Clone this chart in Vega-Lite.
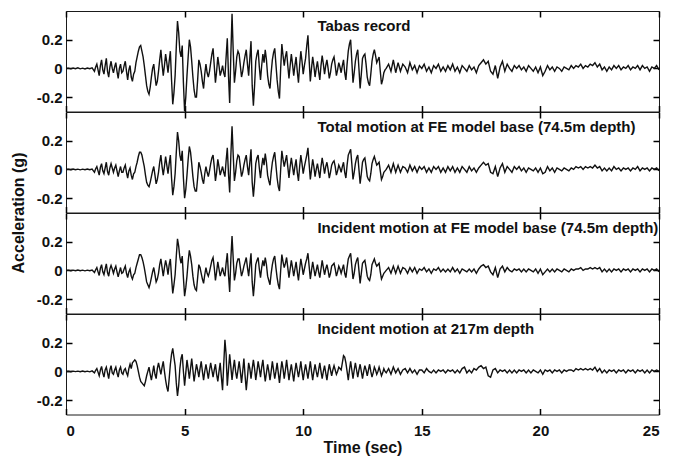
{
"$schema": "https://vega.github.io/schema/vega-lite/v6.json",
"padding": {"left": 10, "top": 9, "right": 19, "bottom": 5},
"background": "white",
"spacing": 0,
"bounds": "flush",
"config": {
 "font": "Liberation Sans",
 "view": {"stroke": "#1a1a1a", "strokeWidth": 1},
 "axis": {"grid": false, "domain": false, "labelFont": "Liberation Sans", "labelFontSize": 15, "labelFontWeight": "bold", "labelColor": "#111111", "titleFont": "Liberation Sans", "titleFontSize": 16, "titleFontWeight": "bold", "titleColor": "#111111"}
},
"data": {"values": [
{"t":0.0,"a":0,"b":0,"c":0,"d":0},
{"t":0.1,"a":0.002,"b":0.002,"c":0.002,"d":0.001},
{"t":0.2,"a":-0.003,"b":-0.002,"c":-0.002,"d":-0.002},
{"t":0.3,"a":0.003,"b":0.003,"c":0.002,"d":0.002},
{"t":0.4,"a":-0.002,"b":-0.002,"c":-0.002,"d":-0.001},
{"t":0.5,"a":0.004,"b":0.002,"c":0.003,"d":0.002},
{"t":0.6,"a":-0.003,"b":-0.003,"c":-0.002,"d":-0.002},
{"t":0.7,"a":0.002,"b":0.002,"c":0.002,"d":0.003},
{"t":0.8,"a":-0.004,"b":-0.002,"c":-0.003,"d":-0.002},
{"t":0.9,"a":0.003,"b":0.003,"c":0.002,"d":0.002},
{"t":1.0,"a":-0.002,"b":-0.002,"c":-0.002,"d":-0.003},
{"t":1.1,"a":0.004,"b":0.003,"c":0.003,"d":0.004},
{"t":1.2,"a":-0.02,"b":-0.02,"c":-0.015,"d":-0.01},
{"t":1.3,"a":0.03,"b":0.02,"c":0.02,"d":0.02},
{"t":1.4,"a":-0.05,"b":-0.04,"c":-0.035,"d":-0.03},
{"t":1.5,"a":0.06,"b":0.04,"c":0.04,"d":0.035},
{"t":1.6,"a":-0.04,"b":-0.03,"c":-0.03,"d":-0.04},
{"t":1.7,"a":0.07,"b":0.05,"c":0.045,"d":0.03},
{"t":1.8,"a":-0.06,"b":-0.04,"c":-0.04,"d":-0.05},
{"t":1.9,"a":0.05,"b":0.04,"c":0.035,"d":0.04},
{"t":2.0,"a":-0.03,"b":-0.02,"c":-0.02,"d":-0.02},
{"t":2.1,"a":0.04,"b":0.03,"c":0.03,"d":0.03},
{"t":2.2,"a":-0.07,"b":-0.05,"c":-0.045,"d":-0.04},
{"t":2.3,"a":0.03,"b":0.02,"c":0.02,"d":0.03},
{"t":2.4,"a":-0.02,"b":-0.02,"c":-0.015,"d":-0.02},
{"t":2.5,"a":0.05,"b":0.03,"c":0.03,"d":0.02},
{"t":2.6,"a":-0.08,"b":-0.06,"c":-0.05,"d":-0.03},
{"t":2.7,"a":0.02,"b":0.01,"c":0.01,"d":0.05},
{"t":2.8,"a":-0.09,"b":-0.07,"c":-0.06,"d":0.06},
{"t":2.9,"a":-0.02,"b":-0.02,"c":-0.02,"d":0.08},
{"t":3.0,"a":0.08,"b":0.05,"c":0.05,"d":0.04},
{"t":3.1,"a":0.15,"b":0.12,"c":0.11,"d":-0.04},
{"t":3.2,"a":0.12,"b":0.1,"c":0.09,"d":-0.08},
{"t":3.3,"a":0.02,"b":0.02,"c":0.02,"d":-0.1},
{"t":3.4,"a":-0.12,"b":-0.09,"c":-0.08,"d":-0.03},
{"t":3.5,"a":-0.18,"b":-0.12,"c":-0.12,"d":0.03},
{"t":3.6,"a":-0.06,"b":-0.05,"c":-0.05,"d":-0.06},
{"t":3.7,"a":0.03,"b":0.02,"c":0.02,"d":0.04},
{"t":3.8,"a":-0.12,"b":-0.1,"c":-0.08,"d":-0.05},
{"t":3.9,"a":-0.02,"b":-0.02,"c":-0.02,"d":0.06},
{"t":4.0,"a":0.13,"b":0.1,"c":0.08,"d":-0.02},
{"t":4.1,"a":-0.05,"b":-0.04,"c":-0.04,"d":0.07},
{"t":4.2,"a":0.1,"b":0.09,"c":0.07,"d":-0.06},
{"t":4.3,"a":-0.03,"b":-0.03,"c":-0.03,"d":-0.14},
{"t":4.4,"a":0.12,"b":0.1,"c":0.08,"d":0.05},
{"t":4.5,"a":-0.25,"b":-0.18,"c":-0.16,"d":0.16},
{"t":4.6,"a":-0.05,"b":-0.03,"c":-0.03,"d":0.04},
{"t":4.7,"a":0.33,"b":0.26,"c":0.22,"d":-0.17},
{"t":4.8,"a":0.12,"b":0.1,"c":0.09,"d":0.02},
{"t":4.9,"a":0.16,"b":0.13,"c":0.1,"d":0.12},
{"t":5.0,"a":-0.3,"b":-0.2,"c":-0.18,"d":-0.1},
{"t":5.1,"a":-0.05,"b":-0.04,"c":-0.04,"d":0.08},
{"t":5.2,"a":0.2,"b":0.16,"c":0.14,"d":-0.05},
{"t":5.3,"a":0.05,"b":0.04,"c":0.04,"d":0.09},
{"t":5.4,"a":-0.15,"b":-0.12,"c":-0.1,"d":-0.07},
{"t":5.5,"a":-0.2,"b":-0.15,"c":-0.14,"d":0.05},
{"t":5.6,"a":0.06,"b":0.05,"c":0.04,"d":-0.04},
{"t":5.7,"a":-0.02,"b":-0.02,"c":-0.02,"d":0.07},
{"t":5.8,"a":-0.14,"b":-0.1,"c":-0.09,"d":-0.06},
{"t":5.9,"a":0.03,"b":0.02,"c":0.02,"d":0.05},
{"t":6.0,"a":-0.06,"b":-0.05,"c":-0.04,"d":-0.05},
{"t":6.1,"a":0.04,"b":0.04,"c":0.03,"d":0.06},
{"t":6.2,"a":0.14,"b":0.1,"c":0.09,"d":-0.04},
{"t":6.3,"a":-0.1,"b":-0.08,"c":-0.07,"d":0.05},
{"t":6.4,"a":0.08,"b":0.07,"c":0.06,"d":-0.07},
{"t":6.5,"a":-0.05,"b":-0.04,"c":-0.04,"d":0.06},
{"t":6.6,"a":0.02,"b":0.02,"c":0.02,"d":-0.13},
{"t":6.7,"a":-0.06,"b":-0.05,"c":-0.04,"d":0.22},
{"t":6.8,"a":0.21,"b":0.15,"c":0.12,"d":-0.1},
{"t":6.9,"a":-0.24,"b":-0.16,"c":-0.15,"d":0.12},
{"t":7.0,"a":0.38,"b":0.3,"c":0.24,"d":-0.06},
{"t":7.1,"a":-0.1,"b":-0.08,"c":-0.07,"d":0.08},
{"t":7.2,"a":0.08,"b":0.06,"c":0.05,"d":-0.05},
{"t":7.3,"a":0.1,"b":0.09,"c":0.08,"d":0.07},
{"t":7.4,"a":-0.06,"b":-0.05,"c":-0.04,"d":-0.08},
{"t":7.5,"a":0.04,"b":0.03,"c":0.03,"d":0.09},
{"t":7.6,"a":0.13,"b":0.1,"c":0.09,"d":-0.13},
{"t":7.7,"a":-0.05,"b":-0.04,"c":-0.04,"d":0.06},
{"t":7.8,"a":0.19,"b":0.14,"c":0.12,"d":-0.05},
{"t":7.9,"a":-0.26,"b":-0.19,"c":-0.18,"d":0.08},
{"t":8.0,"a":0.05,"b":0.04,"c":0.04,"d":-0.06},
{"t":8.1,"a":0.13,"b":0.1,"c":0.09,"d":0.07},
{"t":8.2,"a":-0.08,"b":-0.06,"c":-0.05,"d":-0.04},
{"t":8.3,"a":0.1,"b":0.08,"c":0.07,"d":0.08},
{"t":8.4,"a":0.13,"b":0.11,"c":0.09,"d":-0.07},
{"t":8.5,"a":-0.05,"b":-0.04,"c":-0.04,"d":0.05},
{"t":8.6,"a":-0.14,"b":-0.11,"c":-0.1,"d":-0.06},
{"t":8.7,"a":0.06,"b":0.05,"c":0.04,"d":0.07},
{"t":8.8,"a":0.14,"b":0.12,"c":0.1,"d":-0.05},
{"t":8.9,"a":-0.08,"b":-0.06,"c":-0.05,"d":0.06},
{"t":9.0,"a":-0.21,"b":-0.15,"c":-0.13,"d":-0.08},
{"t":9.1,"a":0.17,"b":0.13,"c":0.11,"d":0.07},
{"t":9.2,"a":0.02,"b":0.02,"c":0.02,"d":-0.05},
{"t":9.3,"a":0.12,"b":0.1,"c":0.09,"d":0.08},
{"t":9.4,"a":-0.07,"b":-0.06,"c":-0.05,"d":-0.06},
{"t":9.5,"a":0.1,"b":0.08,"c":0.07,"d":0.05},
{"t":9.6,"a":-0.05,"b":-0.04,"c":-0.04,"d":-0.07},
{"t":9.7,"a":0.08,"b":0.07,"c":0.06,"d":0.06},
{"t":9.8,"a":-0.1,"b":-0.08,"c":-0.07,"d":-0.04},
{"t":9.9,"a":0.12,"b":0.1,"c":0.08,"d":0.07},
{"t":10.0,"a":-0.04,"b":-0.03,"c":-0.03,"d":-0.06},
{"t":10.1,"a":0.07,"b":0.06,"c":0.05,"d":0.05},
{"t":10.2,"a":0.23,"b":0.15,"c":0.12,"d":-0.05},
{"t":10.3,"a":-0.09,"b":-0.07,"c":-0.06,"d":0.07},
{"t":10.4,"a":0.08,"b":0.07,"c":0.06,"d":-0.06},
{"t":10.5,"a":-0.06,"b":-0.05,"c":-0.04,"d":0.05},
{"t":10.6,"a":0.05,"b":0.04,"c":0.04,"d":-0.04},
{"t":10.7,"a":-0.08,"b":-0.06,"c":-0.05,"d":0.06},
{"t":10.8,"a":0.09,"b":0.08,"c":0.07,"d":-0.05},
{"t":10.9,"a":-0.04,"b":-0.03,"c":-0.03,"d":0.04},
{"t":11.0,"a":0.06,"b":0.05,"c":0.04,"d":-0.06},
{"t":11.1,"a":-0.07,"b":-0.06,"c":-0.05,"d":0.05},
{"t":11.2,"a":0.03,"b":0.03,"c":0.03,"d":-0.03},
{"t":11.3,"a":0.08,"b":0.06,"c":0.05,"d":0.04},
{"t":11.4,"a":-0.05,"b":-0.04,"c":-0.04,"d":-0.02},
{"t":11.5,"a":0.04,"b":0.03,"c":0.03,"d":0.03},
{"t":11.6,"a":-0.03,"b":-0.02,"c":-0.02,"d":0.01},
{"t":11.7,"a":0.06,"b":0.05,"c":0.04,"d":0.11},
{"t":11.8,"a":-0.08,"b":-0.06,"c":-0.05,"d":0.06},
{"t":11.9,"a":0.12,"b":0.1,"c":0.08,"d":-0.06},
{"t":12.0,"a":0.2,"b":0.14,"c":0.12,"d":0.07},
{"t":12.1,"a":-0.1,"b":-0.07,"c":-0.06,"d":-0.05},
{"t":12.2,"a":0.05,"b":0.04,"c":0.04,"d":0.06},
{"t":12.3,"a":0.13,"b":0.1,"c":0.09,"d":-0.04},
{"t":12.4,"a":-0.14,"b":-0.1,"c":-0.09,"d":0.05},
{"t":12.5,"a":0.07,"b":0.05,"c":0.05,"d":-0.05},
{"t":12.6,"a":0.1,"b":0.08,"c":0.07,"d":0.04},
{"t":12.7,"a":-0.06,"b":-0.05,"c":-0.04,"d":-0.03},
{"t":12.8,"a":-0.12,"b":-0.08,"c":-0.07,"d":0.05},
{"t":12.9,"a":0.05,"b":0.04,"c":0.04,"d":-0.04},
{"t":13.0,"a":0.13,"b":0.09,"c":0.08,"d":0.03},
{"t":13.1,"a":0.04,"b":0.03,"c":0.03,"d":-0.02},
{"t":13.2,"a":0.08,"b":0.05,"c":0.05,"d":0.03},
{"t":13.3,"a":-0.11,"b":-0.07,"c":-0.06,"d":-0.03},
{"t":13.4,"a":-0.03,"b":-0.02,"c":-0.02,"d":0.02},
{"t":13.5,"a":0,"b":0,"c":0,"d":-0.01},
{"t":13.6,"a":0.03,"b":0.03,"c":0.02,"d":0.02},
{"t":13.7,"a":-0.02,"b":-0.02,"c":-0.02,"d":-0.02},
{"t":13.8,"a":0.06,"b":0.04,"c":0.03,"d":0.03},
{"t":13.9,"a":-0.03,"b":-0.02,"c":-0.02,"d":-0.01},
{"t":14.0,"a":0.04,"b":0.03,"c":0.03,"d":0.02},
{"t":14.1,"a":-0.02,"b":-0.02,"c":-0.02,"d":-0.02},
{"t":14.2,"a":0.03,"b":0.02,"c":0.02,"d":0.01},
{"t":14.3,"a":0.01,"b":0.01,"c":0.01,"d":0.02},
{"t":14.4,"a":-0.03,"b":-0.02,"c":-0.02,"d":-0.01},
{"t":14.5,"a":0.04,"b":0.03,"c":0.02,"d":0.02},
{"t":14.6,"a":-0.01,"b":-0.01,"c":-0.01,"d":-0.01},
{"t":14.7,"a":0.02,"b":0.02,"c":0.02,"d":0.01},
{"t":14.8,"a":-0.03,"b":-0.02,"c":-0.02,"d":-0.02},
{"t":14.9,"a":0.02,"b":0.02,"c":0.01,"d":0.01},
{"t":15.0,"a":0,"b":0,"c":0,"d":0.01},
{"t":15.1,"a":0.03,"b":0.02,"c":0.02,"d":-0.01},
{"t":15.2,"a":-0.02,"b":-0.02,"c":-0.01,"d":0.02},
{"t":15.3,"a":0.01,"b":0.01,"c":0.01,"d":0},
{"t":15.4,"a":-0.03,"b":-0.02,"c":-0.02,"d":-0.01},
{"t":15.5,"a":0.02,"b":0.02,"c":0.01,"d":0.01},
{"t":15.6,"a":0,"b":0,"c":0,"d":-0.01},
{"t":15.7,"a":0.03,"b":0.02,"c":0.02,"d":0.01},
{"t":15.8,"a":-0.02,"b":-0.02,"c":-0.01,"d":0},
{"t":15.9,"a":0.01,"b":0.01,"c":0.01,"d":0.01},
{"t":16.0,"a":-0.02,"b":-0.02,"c":-0.01,"d":-0.01},
{"t":16.1,"a":0.02,"b":0.02,"c":0.01,"d":0.01},
{"t":16.2,"a":-0.01,"b":-0.01,"c":-0.01,"d":0},
{"t":16.3,"a":0.03,"b":0.02,"c":0.02,"d":0.01},
{"t":16.4,"a":-0.02,"b":-0.02,"c":-0.01,"d":-0.01},
{"t":16.5,"a":0.01,"b":0.01,"c":0.01,"d":0.01},
{"t":16.6,"a":-0.03,"b":-0.02,"c":-0.02,"d":-0.01},
{"t":16.7,"a":0.02,"b":0.02,"c":0.01,"d":0.02},
{"t":16.8,"a":0,"b":0,"c":0,"d":0.03},
{"t":16.9,"a":-0.02,"b":-0.02,"c":-0.01,"d":-0.01},
{"t":17.0,"a":0.02,"b":0.02,"c":0.01,"d":0.01},
{"t":17.1,"a":-0.01,"b":-0.01,"c":-0.01,"d":-0.01},
{"t":17.2,"a":0.01,"b":0.01,"c":0.01,"d":0.02},
{"t":17.3,"a":-0.03,"b":-0.02,"c":-0.02,"d":0.01},
{"t":17.4,"a":0.02,"b":0.01,"c":0.01,"d":0.03},
{"t":17.5,"a":0.04,"b":0.03,"c":0.03,"d":0.04},
{"t":17.6,"a":0.06,"b":0.05,"c":0.04,"d":0.02},
{"t":17.7,"a":0.03,"b":0.03,"c":0.02,"d":0.03},
{"t":17.8,"a":0.05,"b":0.04,"c":0.03,"d":-0.03},
{"t":17.9,"a":-0.02,"b":-0.02,"c":-0.01,"d":-0.04},
{"t":18.0,"a":-0.04,"b":-0.03,"c":-0.03,"d":0.01},
{"t":18.1,"a":0.02,"b":0.02,"c":0.02,"d":0.02},
{"t":18.2,"a":-0.07,"b":-0.05,"c":-0.05,"d":-0.01},
{"t":18.3,"a":0.01,"b":0.01,"c":0.01,"d":0.01},
{"t":18.4,"a":0.05,"b":0.04,"c":0.03,"d":0},
{"t":18.5,"a":-0.02,"b":-0.02,"c":-0.01,"d":0.01},
{"t":18.6,"a":0.03,"b":0.02,"c":0.02,"d":-0.01},
{"t":18.7,"a":0,"b":0,"c":0,"d":0.01},
{"t":18.8,"a":-0.02,"b":-0.02,"c":-0.01,"d":-0.01},
{"t":18.9,"a":0.02,"b":0.02,"c":0.01,"d":0.01},
{"t":19.0,"a":0,"b":0,"c":0,"d":-0.01},
{"t":19.1,"a":0.02,"b":0.02,"c":0.01,"d":0.01},
{"t":19.2,"a":-0.01,"b":-0.01,"c":-0.01,"d":0},
{"t":19.3,"a":0.01,"b":0.01,"c":0.01,"d":0.01},
{"t":19.4,"a":-0.02,"b":-0.02,"c":-0.01,"d":-0.01},
{"t":19.5,"a":0.02,"b":0.01,"c":0.01,"d":0.01},
{"t":19.6,"a":0,"b":0,"c":0,"d":-0.01},
{"t":19.7,"a":-0.02,"b":-0.01,"c":-0.01,"d":0.01},
{"t":19.8,"a":0.01,"b":0.01,"c":0.01,"d":0},
{"t":19.9,"a":-0.03,"b":-0.02,"c":-0.02,"d":-0.01},
{"t":20.0,"a":0.01,"b":0.01,"c":0.01,"d":0.01},
{"t":20.1,"a":-0.05,"b":-0.03,"c":-0.03,"d":-0.02},
{"t":20.2,"a":-0.02,"b":-0.02,"c":-0.01,"d":0.01},
{"t":20.3,"a":0.02,"b":0.02,"c":0.01,"d":0},
{"t":20.4,"a":-0.01,"b":-0.01,"c":-0.01,"d":0.01},
{"t":20.5,"a":0.01,"b":0.01,"c":0.01,"d":-0.01},
{"t":20.6,"a":-0.02,"b":-0.02,"c":-0.01,"d":0.01},
{"t":20.7,"a":0.01,"b":0.01,"c":0.01,"d":0},
{"t":20.8,"a":0,"b":0,"c":0,"d":0.01},
{"t":20.9,"a":-0.02,"b":-0.01,"c":-0.01,"d":-0.01},
{"t":21.0,"a":0.01,"b":0.01,"c":0.01,"d":0.01},
{"t":21.1,"a":0,"b":0,"c":0,"d":0},
{"t":21.2,"a":-0.01,"b":-0.01,"c":-0.01,"d":0.01},
{"t":21.3,"a":0.02,"b":0.01,"c":0.01,"d":0.01},
{"t":21.4,"a":0,"b":0,"c":0,"d":0},
{"t":21.5,"a":0.02,"b":0.02,"c":0.01,"d":0.02},
{"t":21.6,"a":0.01,"b":0.01,"c":0.01,"d":0.01},
{"t":21.7,"a":0.03,"b":0.02,"c":0.02,"d":0.02},
{"t":21.8,"a":0,"b":0,"c":0,"d":0.01},
{"t":21.9,"a":0.02,"b":0.02,"c":0.01,"d":0.02},
{"t":22.0,"a":0.01,"b":0.01,"c":0.01,"d":0.01},
{"t":22.1,"a":0.03,"b":0.02,"c":0.02,"d":0.02},
{"t":22.2,"a":0.02,"b":0.01,"c":0.01,"d":0.01},
{"t":22.3,"a":0.04,"b":0.03,"c":0.02,"d":0.03},
{"t":22.4,"a":0.01,"b":0.01,"c":0.01,"d":0},
{"t":22.5,"a":0.03,"b":0.02,"c":0.02,"d":0.02},
{"t":22.6,"a":-0.01,"b":-0.01,"c":-0.01,"d":-0.01},
{"t":22.7,"a":0.01,"b":0.01,"c":0.01,"d":0.01},
{"t":22.8,"a":-0.02,"b":-0.01,"c":-0.01,"d":-0.01},
{"t":22.9,"a":0.01,"b":0.01,"c":0.01,"d":0.01},
{"t":23.0,"a":-0.01,"b":-0.01,"c":-0.01,"d":0},
{"t":23.1,"a":0.02,"b":0.02,"c":0.01,"d":0.01},
{"t":23.2,"a":0,"b":0,"c":0,"d":-0.01},
{"t":23.3,"a":0.02,"b":0.01,"c":0.01,"d":0.01},
{"t":23.4,"a":-0.01,"b":-0.01,"c":-0.01,"d":0},
{"t":23.5,"a":0.01,"b":0.01,"c":0.01,"d":0.01},
{"t":23.6,"a":0,"b":0,"c":0,"d":-0.01},
{"t":23.7,"a":0.02,"b":0.01,"c":0.01,"d":0.01},
{"t":23.8,"a":-0.01,"b":-0.01,"c":-0.01,"d":0},
{"t":23.9,"a":0.01,"b":0.01,"c":0.01,"d":0.01},
{"t":24.0,"a":0,"b":0,"c":0,"d":-0.01},
{"t":24.1,"a":0.02,"b":0.02,"c":0.01,"d":0.01},
{"t":24.2,"a":-0.01,"b":-0.01,"c":-0.01,"d":0},
{"t":24.3,"a":0.02,"b":0.01,"c":0.01,"d":0.01},
{"t":24.4,"a":0,"b":0,"c":0,"d":-0.01},
{"t":24.5,"a":0.01,"b":0.01,"c":0.01,"d":0.01},
{"t":24.6,"a":-0.02,"b":-0.01,"c":-0.01,"d":-0.01},
{"t":24.7,"a":0.01,"b":0.01,"c":0.01,"d":0.01},
{"t":24.8,"a":0,"b":0,"c":0,"d":0},
{"t":24.9,"a":0.02,"b":0.01,"c":0.01,"d":0.01},
{"t":25.0,"a":-0.01,"b":-0.01,"c":-0.01,"d":0},
{"t":1.25,"a":0.01,"b":0.005,"c":0.005,"d":0.008},
{"t":1.35,"a":-0.01,"b":-0.01,"c":-0.01,"d":-0.005},
{"t":1.45,"a":0.02,"b":0.015,"c":0.015,"d":0.01},
{"t":1.55,"a":-0.01,"b":-0.01,"c":-0.01,"d":-0.01},
{"t":1.65,"a":0.02,"b":0.01,"c":0.01,"d":0.01},
{"t":1.75,"a":-0.02,"b":-0.015,"c":-0.015,"d":-0.01},
{"t":1.85,"a":0.01,"b":0.01,"c":0.01,"d":0.01},
{"t":1.95,"a":0,"b":0.01,"c":0.01,"d":-0.01},
{"t":2.05,"a":0.01,"b":0.01,"c":0.01,"d":0.01},
{"t":2.15,"a":-0.02,"b":-0.01,"c":-0.01,"d":-0.01},
{"t":2.25,"a":0,"b":-0.01,"c":-0.01,"d":0.01},
{"t":2.35,"a":-0.03,"b":-0.02,"c":-0.02,"d":-0.01},
{"t":2.45,"a":0.02,"b":0.01,"c":0.01,"d":0.01},
{"t":2.55,"a":-0.02,"b":-0.02,"c":-0.02,"d":-0.01},
{"t":2.65,"a":-0.01,"b":-0.01,"c":-0.01,"d":0.02},
{"t":2.75,"a":-0.06,"b":-0.04,"c":-0.04,"d":0.02},
{"t":2.85,"a":-0.04,"b":-0.03,"c":-0.03,"d":0.07},
{"t":2.95,"a":0.04,"b":0.02,"c":0.02,"d":0.07},
{"t":3.05,"a":0.12,"b":0.09,"c":0.08,"d":0},
{"t":3.15,"a":0.16,"b":0.12,"c":0.11,"d":-0.07},
{"t":3.25,"a":0.08,"b":0.06,"c":0.06,"d":-0.09},
{"t":3.35,"a":-0.05,"b":-0.04,"c":-0.03,"d":-0.07},
{"t":3.45,"a":-0.16,"b":-0.11,"c":-0.1,"d":0},
{"t":3.55,"a":-0.13,"b":-0.09,"c":-0.09,"d":-0.02},
{"t":3.65,"a":0,"b":-0.01,"c":-0.01,"d":-0.01},
{"t":3.75,"a":-0.05,"b":-0.04,"c":-0.03,"d":-0.02},
{"t":3.85,"a":-0.09,"b":-0.07,"c":-0.06,"d":0.02},
{"t":3.95,"a":0.06,"b":0.05,"c":0.04,"d":0.02},
{"t":4.05,"a":0.03,"b":0.02,"c":0.02,"d":0.03},
{"t":4.15,"a":0.02,"b":0.02,"c":0.02,"d":0},
{"t":4.25,"a":0.04,"b":0.03,"c":0.03,"d":-0.11},
{"t":4.35,"a":0.05,"b":0.04,"c":0.04,"d":-0.05},
{"t":4.45,"a":-0.08,"b":-0.06,"c":-0.05,"d":0.12},
{"t":4.55,"a":-0.17,"b":-0.12,"c":-0.1,"d":0.1},
{"t":4.65,"a":0.15,"b":0.12,"c":0.1,"d":-0.08},
{"t":4.75,"a":0.25,"b":0.2,"c":0.17,"d":-0.1},
{"t":4.85,"a":0.08,"b":0.06,"c":0.05,"d":0.09},
{"t":4.95,"a":-0.1,"b":-0.06,"c":-0.05,"d":0},
{"t":5.05,"a":-0.2,"b":-0.14,"c":-0.12,"d":-0.01},
{"t":5.15,"a":0.08,"b":0.07,"c":0.06,"d":0.02},
{"t":5.25,"a":0.15,"b":0.12,"c":0.1,"d":0.02},
{"t":5.35,"a":-0.06,"b":-0.05,"c":-0.04,"d":0.01},
{"t":5.45,"a":-0.2,"b":-0.15,"c":-0.13,"d":-0.01},
{"t":5.55,"a":-0.08,"b":-0.06,"c":-0.05,"d":0.01},
{"t":5.65,"a":0.03,"b":0.02,"c":0.02,"d":0.02},
{"t":5.75,"a":-0.09,"b":-0.07,"c":-0.06,"d":0},
{"t":5.85,"a":-0.04,"b":-0.03,"c":-0.03,"d":0},
{"t":5.95,"a":-0.03,"b":-0.02,"c":-0.02,"d":0},
{"t":6.05,"a":-0.02,"b":-0.01,"c":-0.01,"d":0.01},
{"t":6.15,"a":0.1,"b":0.08,"c":0.07,"d":0.01},
{"t":6.25,"a":0.02,"b":0.02,"c":0.02,"d":0.01},
{"t":6.35,"a":-0.02,"b":-0.02,"c":-0.01,"d":-0.02},
{"t":6.45,"a":0.02,"b":0.02,"c":0.01,"d":0},
{"t":6.55,"a":-0.02,"b":-0.01,"c":-0.01,"d":-0.04},
{"t":6.65,"a":-0.03,"b":-0.02,"c":-0.02,"d":0.05},
{"t":6.75,"a":0.08,"b":0.06,"c":0.05,"d":0.12},
{"t":6.85,"a":-0.05,"b":-0.03,"c":-0.03,"d":0.01},
{"t":6.95,"a":0.1,"b":0.1,"c":0.08,"d":0.03},
{"t":7.05,"a":0.12,"b":0.1,"c":0.08,"d":0.02},
{"t":7.15,"a":-0.02,"b":-0.02,"c":-0.02,"d":0},
{"t":7.25,"a":0.12,"b":0.1,"c":0.08,"d":0.01},
{"t":7.35,"a":0.02,"b":0.02,"c":0.02,"d":0},
{"t":7.45,"a":-0.02,"b":-0.02,"c":-0.01,"d":0},
{"t":7.55,"a":0.09,"b":0.07,"c":0.06,"d":-0.03},
{"t":7.65,"a":0.03,"b":0.02,"c":0.02,"d":-0.04},
{"t":7.75,"a":0.07,"b":0.05,"c":0.04,"d":0.02},
{"t":7.85,"a":-0.12,"b":-0.09,"c":-0.08,"d":0.02},
{"t":7.95,"a":-0.12,"b":-0.09,"c":-0.08,"d":0.02},
{"t":8.05,"a":0.1,"b":0.08,"c":0.07,"d":0},
{"t":8.15,"a":0.01,"b":0.01,"c":0.01,"d":0.02},
{"t":8.25,"a":0.02,"b":0.02,"c":0.02,"d":0.03},
{"t":8.35,"a":0.04,"b":0.03,"c":0.03,"d":0},
{"t":8.45,"a":0.06,"b":0.05,"c":0.04,"d":-0.01},
{"t":8.55,"a":-0.11,"b":-0.08,"c":-0.07,"d":0},
{"t":8.65,"a":-0.03,"b":-0.02,"c":-0.02,"d":0},
{"t":8.75,"a":0.11,"b":0.09,"c":0.08,"d":0.01},
{"t":8.85,"a":0.03,"b":0.03,"c":0.02,"d":0},
{"t":8.95,"a":-0.16,"b":-0.12,"c":-0.1,"d":-0.01},
{"t":9.05,"a":0,"b":0,"c":0,"d":0},
{"t":9.15,"a":0.09,"b":0.07,"c":0.06,"d":0.02},
{"t":9.25,"a":0.08,"b":0.06,"c":0.05,"d":0.01},
{"t":9.35,"a":0.02,"b":0.02,"c":0.02,"d":0.01},
{"t":9.45,"a":0.02,"b":0.02,"c":0.01,"d":0},
{"t":9.55,"a":0.03,"b":0.02,"c":0.02,"d":-0.01},
{"t":9.65,"a":0.02,"b":0.02,"c":0.01,"d":0},
{"t":9.75,"a":-0.02,"b":-0.02,"c":-0.01,"d":0.01},
{"t":9.85,"a":0.02,"b":0.02,"c":0.01,"d":0.01},
{"t":9.95,"a":0.05,"b":0.04,"c":0.03,"d":0},
{"t":10.05,"a":0.02,"b":0.02,"c":0.01,"d":0},
{"t":10.15,"a":0.16,"b":0.1,"c":0.08,"d":0},
{"t":10.25,"a":0.06,"b":0.04,"c":0.03,"d":0.01},
{"t":10.35,"a":0,"b":0,"c":0,"d":0},
{"t":10.45,"a":0.02,"b":0.02,"c":0.01,"d":0},
{"t":10.55,"a":0,"b":0,"c":0,"d":0},
{"t":10.65,"a":-0.02,"b":-0.01,"c":-0.01,"d":0.01},
{"t":10.75,"a":0.02,"b":0.02,"c":0.01,"d":0},
{"t":10.85,"a":0.03,"b":0.03,"c":0.02,"d":0},
{"t":10.95,"a":0.02,"b":0.02,"c":0.01,"d":-0.01},
{"t":11.05,"a":0,"b":0,"c":0,"d":0},
{"t":11.15,"a":-0.03,"b":-0.02,"c":-0.02,"d":0.01},
{"t":11.25,"a":0.06,"b":0.05,"c":0.04,"d":0.01},
{"t":11.35,"a":0.02,"b":0.02,"c":0.01,"d":0.01},
{"t":11.45,"a":-0.01,"b":-0.01,"c":-0.01,"d":0},
{"t":11.55,"a":0.01,"b":0.01,"c":0.01,"d":0.02},
{"t":11.65,"a":0.02,"b":0.02,"c":0.01,"d":0.06},
{"t":11.75,"a":-0.03,"b":-0.02,"c":-0.02,"d":0.1},
{"t":11.85,"a":0.03,"b":0.03,"c":0.02,"d":0},
{"t":11.95,"a":0.17,"b":0.12,"c":0.1,"d":0.01},
{"t":12.05,"a":0.05,"b":0.04,"c":0.03,"d":0.01},
{"t":12.15,"a":-0.03,"b":-0.02,"c":-0.02,"d":0.01},
{"t":12.25,"a":0.1,"b":0.08,"c":0.07,"d":0.01},
{"t":12.35,"a":0,"b":0,"c":0,"d":0.01},
{"t":12.45,"a":-0.04,"b":-0.03,"c":-0.02,"d":0},
{"t":12.55,"a":0.09,"b":0.07,"c":0.06,"d":0},
{"t":12.65,"a":0.03,"b":0.02,"c":0.02,"d":0.01},
{"t":12.75,"a":-0.1,"b":-0.07,"c":-0.06,"d":0.01},
{"t":12.85,"a":-0.04,"b":-0.03,"c":-0.03,"d":0},
{"t":12.95,"a":0.1,"b":0.07,"c":0.06,"d":-0.01},
{"t":13.05,"a":0.09,"b":0.06,"c":0.05,"d":0.01},
{"t":13.15,"a":0.06,"b":0.04,"c":0.04,"d":0},
{"t":13.25,"a":-0.02,"b":-0.01,"c":-0.01,"d":0},
{"t":13.35,"a":-0.08,"b":-0.05,"c":-0.04,"d":-0.01},
{"t":13.45,"a":-0.01,"b":-0.01,"c":-0.01,"d":0}
]},
"vconcat": [
 {"width": 593, "height": 100.5,
  "resolve": {"axis": {"x": "independent", "y": "independent"}},
  "layer": [
   {"mark": {"type": "line", "color": "#111111", "strokeWidth": 1.4, "clip": true},
    "encoding": {
     "x": {"field": "t", "type": "quantitative", "sort": "ascending", "scale": {"domain": [0, 25], "nice": false, "zero": false}, "axis": {"orient": "bottom", "values": [0,5,10,15,20,25], "tickSize": -6, "tickColor": "#000000", "tickWidth": 1.5, "tickOpacity": 1, "labels": false, "title": null}},
     "y": {"field": "a", "type": "quantitative", "scale": {"domain": [-0.3, 0.4], "nice": false}, "axis": {"orient": "left", "values": [-0.2,0,0.2], "tickSize": -6, "tickColor": "#000000", "tickWidth": 1.5, "tickOpacity": 1, "labelPadding": 10, "labelExpr": "datum.value == 0 ? '0' : (datum.value < 0 ? '-' : '') + format(abs(datum.value), '.1f')", "title": null}}
    }},
   {"data": {"values": [{"label": "Tabas record"}]},
    "mark": {"type": "text", "align": "left", "baseline": "alphabetic", "fontSize": 15, "fontWeight": "bold", "color": "#111111", "font": "Liberation Sans"},
    "encoding": {
     "x": {"datum": 10.6, "type": "quantitative", "axis": {"orient": "top", "values": [0,5,10,15,20,25], "tickSize": -6, "tickColor": "#000000", "tickWidth": 1.5, "tickOpacity": 1, "labels": false, "title": null}},
     "y": {"datum": 0.26, "type": "quantitative", "axis": {"orient": "right", "values": [-0.2,0,0.2], "tickSize": -6, "tickColor": "#000000", "tickWidth": 1.5, "tickOpacity": 1, "labels": false, "title": null}},
     "text": {"field": "label"}
    }}
  ]},
 {"width": 593, "height": 100.5,
  "resolve": {"axis": {"x": "independent", "y": "independent"}},
  "layer": [
   {"mark": {"type": "line", "color": "#111111", "strokeWidth": 1.4, "clip": true},
    "encoding": {
     "x": {"field": "t", "type": "quantitative", "sort": "ascending", "scale": {"domain": [0, 25], "nice": false, "zero": false}, "axis": {"orient": "bottom", "values": [0,5,10,15,20,25], "tickSize": -6, "tickColor": "#000000", "tickWidth": 1.5, "tickOpacity": 1, "labels": false, "title": null}},
     "y": {"field": "b", "type": "quantitative", "scale": {"domain": [-0.3, 0.4], "nice": false}, "axis": {"orient": "left", "values": [-0.2,0,0.2], "tickSize": -6, "tickColor": "#000000", "tickWidth": 1.5, "tickOpacity": 1, "labelPadding": 10, "labelExpr": "datum.value == 0 ? '0' : (datum.value < 0 ? '-' : '') + format(abs(datum.value), '.1f')", "title": "Acceleration (g)", "titleX": -42.5, "titleY": 100.5, "titleAngle": -90, "titleAlign": "center", "titleBaseline": "alphabetic"}}
    }},
   {"data": {"values": [{"label": "Total motion at FE model base (74.5m depth)"}]},
    "mark": {"type": "text", "align": "left", "baseline": "alphabetic", "fontSize": 15, "fontWeight": "bold", "color": "#111111", "font": "Liberation Sans"},
    "encoding": {
     "x": {"datum": 10.6, "type": "quantitative", "axis": {"orient": "top", "values": [0,5,10,15,20,25], "tickSize": -6, "tickColor": "#000000", "tickWidth": 1.5, "tickOpacity": 1, "labels": false, "title": null}},
     "y": {"datum": 0.26, "type": "quantitative", "axis": {"orient": "right", "values": [-0.2,0,0.2], "tickSize": -6, "tickColor": "#000000", "tickWidth": 1.5, "tickOpacity": 1, "labels": false, "title": null}},
     "text": {"field": "label"}
    }}
  ]},
 {"width": 593, "height": 100.5,
  "resolve": {"axis": {"x": "independent", "y": "independent"}},
  "layer": [
   {"mark": {"type": "line", "color": "#111111", "strokeWidth": 1.4, "clip": true},
    "encoding": {
     "x": {"field": "t", "type": "quantitative", "sort": "ascending", "scale": {"domain": [0, 25], "nice": false, "zero": false}, "axis": {"orient": "bottom", "values": [0,5,10,15,20,25], "tickSize": -6, "tickColor": "#000000", "tickWidth": 1.5, "tickOpacity": 1, "labels": false, "title": null}},
     "y": {"field": "c", "type": "quantitative", "scale": {"domain": [-0.3, 0.4], "nice": false}, "axis": {"orient": "left", "values": [-0.2,0,0.2], "tickSize": -6, "tickColor": "#000000", "tickWidth": 1.5, "tickOpacity": 1, "labelPadding": 10, "labelExpr": "datum.value == 0 ? '0' : (datum.value < 0 ? '-' : '') + format(abs(datum.value), '.1f')", "title": null}}
    }},
   {"data": {"values": [{"label": "Incident motion at FE model base (74.5m depth)"}]},
    "mark": {"type": "text", "align": "left", "baseline": "alphabetic", "fontSize": 15, "fontWeight": "bold", "color": "#111111", "font": "Liberation Sans"},
    "encoding": {
     "x": {"datum": 10.6, "type": "quantitative", "axis": {"orient": "top", "values": [0,5,10,15,20,25], "tickSize": -6, "tickColor": "#000000", "tickWidth": 1.5, "tickOpacity": 1, "labels": false, "title": null}},
     "y": {"datum": 0.26, "type": "quantitative", "axis": {"orient": "right", "values": [-0.2,0,0.2], "tickSize": -6, "tickColor": "#000000", "tickWidth": 1.5, "tickOpacity": 1, "labels": false, "title": null}},
     "text": {"field": "label"}
    }}
  ]},
 {"width": 593, "height": 100.5,
  "resolve": {"axis": {"x": "independent", "y": "independent"}},
  "layer": [
   {"mark": {"type": "line", "color": "#111111", "strokeWidth": 1.4, "clip": true},
    "encoding": {
     "x": {"field": "t", "type": "quantitative", "sort": "ascending", "scale": {"domain": [0, 25], "nice": false, "zero": false}, "axis": {"orient": "bottom", "values": [0,5,10,15,20,25], "tickSize": -6, "tickColor": "#000000", "tickWidth": 1.5, "tickOpacity": 1, "labelPadding": 15, "format": "d", "title": "Time (sec)", "titlePadding": 1}},
     "y": {"field": "d", "type": "quantitative", "scale": {"domain": [-0.3, 0.4], "nice": false}, "axis": {"orient": "left", "values": [-0.2,0,0.2], "tickSize": -6, "tickColor": "#000000", "tickWidth": 1.5, "tickOpacity": 1, "labelPadding": 10, "labelExpr": "datum.value == 0 ? '0' : (datum.value < 0 ? '-' : '') + format(abs(datum.value), '.1f')", "title": null}}
    }},
   {"data": {"values": [{"label": "Incident motion at 217m depth"}]},
    "mark": {"type": "text", "align": "left", "baseline": "alphabetic", "fontSize": 15, "fontWeight": "bold", "color": "#111111", "font": "Liberation Sans"},
    "encoding": {
     "x": {"datum": 10.6, "type": "quantitative", "axis": {"orient": "top", "values": [0,5,10,15,20,25], "tickSize": -6, "tickColor": "#000000", "tickWidth": 1.5, "tickOpacity": 1, "labels": false, "title": null}},
     "y": {"datum": 0.26, "type": "quantitative", "axis": {"orient": "right", "values": [-0.2,0,0.2], "tickSize": -6, "tickColor": "#000000", "tickWidth": 1.5, "tickOpacity": 1, "labels": false, "title": null}},
     "text": {"field": "label"}
    }}
  ]}
]
}
